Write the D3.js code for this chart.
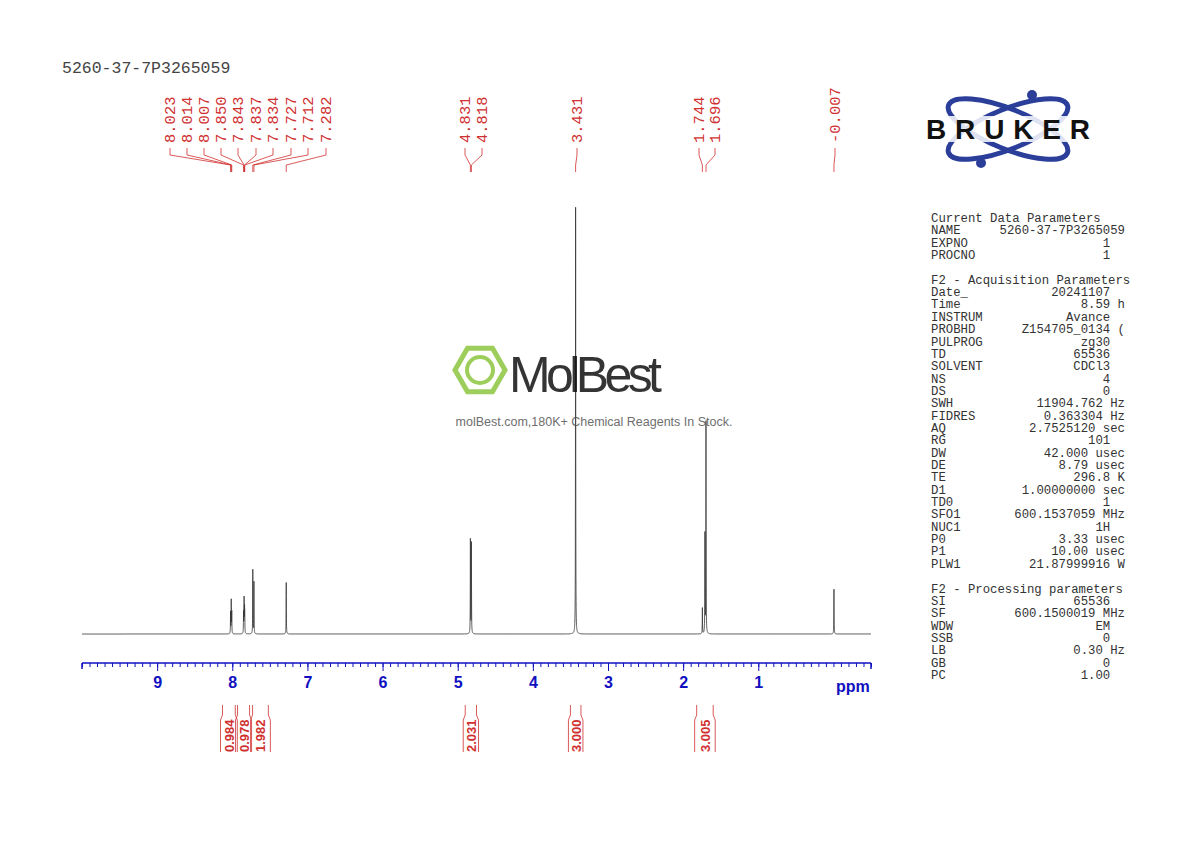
<!DOCTYPE html>
<html><head><meta charset="utf-8">
<script src="https://cdn.jsdelivr.net/npm/d3@7"></script>
<style>body{margin:0;background:#fff}</style>
</head><body>
<svg id="c" width="1190" height="842"></svg>
<script>
// peaks: ppm, height (relative to tallest = 1)
const peakPpm = [8.023, 8.014, 8.007, 7.850, 7.843, 7.837, 7.834, 7.727, 7.712, 7.282, 4.831, 4.818, 3.431, 1.744, 1.696, 1.710, -0.007];
const peakHeight = [0.05, 0.08, 0.05, 0.05, 0.08, 0.05, 0.04, 0.15, 0.12, 0.125, 0.22, 0.22, 1.0, 0.06, 0.49, 0.24, 0.105];
const labelPpm = ["8.023","8.014","8.007","7.850","7.843","7.837","7.834","7.727","7.712","7.282","4.831","4.818","3.431","1.744","1.696","-0.007"];
const labelX = [170,187,204,221,238,256,273,291,308,326,465,482,577,699,715,835];
const intValues = ["0.984","0.978","1.982","2.031","3.000","3.005"];
const intFrom = [8.13, 7.93, 7.73, 4.9, 3.5, 1.82];
const intTo = [7.96, 7.77, 7.52, 4.75, 3.36, 1.6];
const xTicks = [9,8,7,6,5,4,3,2,1];
const params = [
 ["Current Data Parameters",""],["NAME","5260-37-7P3265059"],["EXPNO","1  "],["PROCNO","1  "],["",""],
 ["F2 - Acquisition Parameters",""],["Date_","20241107  "],["Time","8.59 h"],["INSTRUM","Avance  "],["PROBHD","Z154705_0134 ("],
 ["PULPROG","zg30  "],["TD","65536  "],["SOLVENT","CDCl3  "],["NS","4  "],["DS","0  "],["SWH","11904.762 Hz"],
 ["FIDRES","0.363304 Hz"],["AQ","2.7525120 sec"],["RG","101  "],["DW","42.000 usec"],["DE","8.79 usec"],["TE","296.8 K"],
 ["D1","1.00000000 sec"],["TD0","1  "],["SFO1","600.1537059 MHz"],["NUC1","1H  "],["P0","3.33 usec"],["P1","10.00 usec"],
 ["PLW1","21.87999916 W"],["",""],["F2 - Processing parameters",""],["SI","65536  "],["SF","600.1500019 MHz"],["WDW","EM  "],
 ["SSB","0  "],["LB","0.30 Hz"],["GB","0  "],["PC","1.00  "]
];

const svg = d3.select('#c');
const red = '#d03030', blue = '#1010c0';
const x = d3.scaleLinear().domain([10.0, -0.5]).range([82, 871]);
const y = d3.scaleLinear().domain([0, 1]).range([634, 202]);

svg.append('text').attr('x', 62).attr('y', 73).attr('font-family', 'Liberation Mono').attr('font-size', 16.5).attr('fill', '#444').text('5260-37-7P3265059');

// spectrum
const pts = [];
for (let p = 10.0; p >= -0.5; p -= 0.0008) {
  let v = 0;
  peakPpm.forEach((c, i) => { const w = 0.0018; const d = (p - c) / w; v += peakHeight[i] / (1 + d * d); });
  pts.push([p, v]);
}
svg.append('path').datum(pts).attr('fill', 'none').attr('stroke', '#333').attr('stroke-width', 0.8)
  .attr('d', d3.line().x(d => x(d[0])).y(d => y(d[1])));

// axis
const ax = svg.append('g').attr('transform', 'translate(0,663)');
ax.call(d3.axisBottom(x).tickValues(d3.range(-5, 101).map(d => d / 10)).tickSize(4).tickFormat(''));
ax.append('g').call(d3.axisBottom(x).tickValues(xTicks).tickSize(8).tickFormat(d3.format('d')));
ax.selectAll('path,line').attr('stroke', blue);
ax.selectAll('.domain').attr('d', 'M82,6V0H871V6');
ax.selectAll('text').attr('fill', blue).attr('font-family', 'Liberation Sans').attr('font-weight', 'bold').attr('font-size', 16).attr('dy', '0.9em');
svg.append('text').attr('x', 836).attr('y', 692).attr('fill', blue).attr('font-family', 'Liberation Sans').attr('font-weight', 'bold').attr('font-size', 16).text('ppm');

// peak labels
labelPpm.forEach((t, i) => {
  const lx = labelX[i], px = x(+t);
  svg.append('text').attr('transform', `translate(${lx + 5},143) rotate(-90)`).attr('font-family', 'Liberation Mono').attr('font-size', 15.5).attr('fill', red).text(t);
  svg.append('path').attr('fill', 'none').attr('stroke', red).attr('stroke-width', 0.8)
    .attr('d', `M${lx},148V155L${px},165V172`);
});

// integrals
intValues.forEach((t, i) => {
  const x0 = x(intFrom[i]), x1 = x(intTo[i]), xm = (x0 + x1) / 2;
  svg.append('path').attr('fill', 'none').attr('stroke', red).attr('stroke-width', 0.8)
    .attr('d', `M${x0},705V715L${x0 - 2},720V752M${x1},705V715L${x1 + 2},720V752`);
  svg.append('text').attr('transform', `translate(${xm + 5},752) rotate(-90)`).attr('font-family', 'Liberation Sans').attr('font-weight', 'bold').attr('font-size', 13).attr('fill', red).text(t);
});

// parameters
const pg = svg.append('g').attr('font-family', 'Liberation Mono').attr('font-size', 12.3).attr('fill', '#333');
params.forEach((r, i) => {
  const yy = 222 + i * 12.35;
  pg.append('text').attr('x', 931).attr('y', yy).text(r[0]);
  pg.append('text').attr('x', 1125).attr('y', yy).attr('text-anchor', 'end').attr('xml:space', 'preserve').text(r[1]);
});

// Bruker logo
const lg = svg.append('g').attr('transform', 'translate(1008,129)');
[-22, 22].forEach(a => lg.append('ellipse').attr('rx', 64).attr('ry', 20).attr('transform', `rotate(${a})`).attr('fill', 'none').attr('stroke', '#2a3e9a').attr('stroke-width', 5));
lg.append('circle').attr('cx', 24).attr('cy', -34).attr('r', 5).attr('fill', '#2a3e9a');
lg.append('circle').attr('cx', -27).attr('cy', 34).attr('r', 5).attr('fill', '#2a3e9a');
lg.append('rect').attr('x', -84).attr('y', -13).attr('width', 168).attr('height', 26).attr('fill', '#fff').attr('opacity', 0.85);
lg.append('text').attr('text-anchor', 'middle').attr('y', 10).attr('font-family', 'Liberation Sans').attr('font-weight', 'bold').attr('font-size', 28).attr('textLength', 164).attr('fill', '#111').text('BRUKER');

// watermark
const wm = svg.append('g').attr('opacity', 0.85);
const hex = d3.range(6).map(k => [480 + 25 * Math.cos(k * Math.PI / 3), 370 + 25 * Math.sin(k * Math.PI / 3)]);
wm.append('polygon').attr('points', hex.join(' ')).attr('fill', 'none').attr('stroke', '#8cc63f').attr('stroke-width', 5);
wm.append('circle').attr('cx', 480).attr('cy', 370).attr('r', 13).attr('fill', 'none').attr('stroke', '#8cc63f').attr('stroke-width', 4);
wm.append('text').attr('x', 509).attr('y', 392).attr('font-family', 'Liberation Sans Narrow, Liberation Sans').attr('font-size', 50).attr('textLength', 153).attr('fill', '#111').text('MolBest');
wm.append('text').attr('x', 594).attr('y', 426).attr('text-anchor', 'middle').attr('font-family', 'Liberation Sans').attr('font-size', 12.5).attr('fill', '#555').text('molBest.com,180K+ Chemical Reagents In Stock.');
</script>
</body></html>
